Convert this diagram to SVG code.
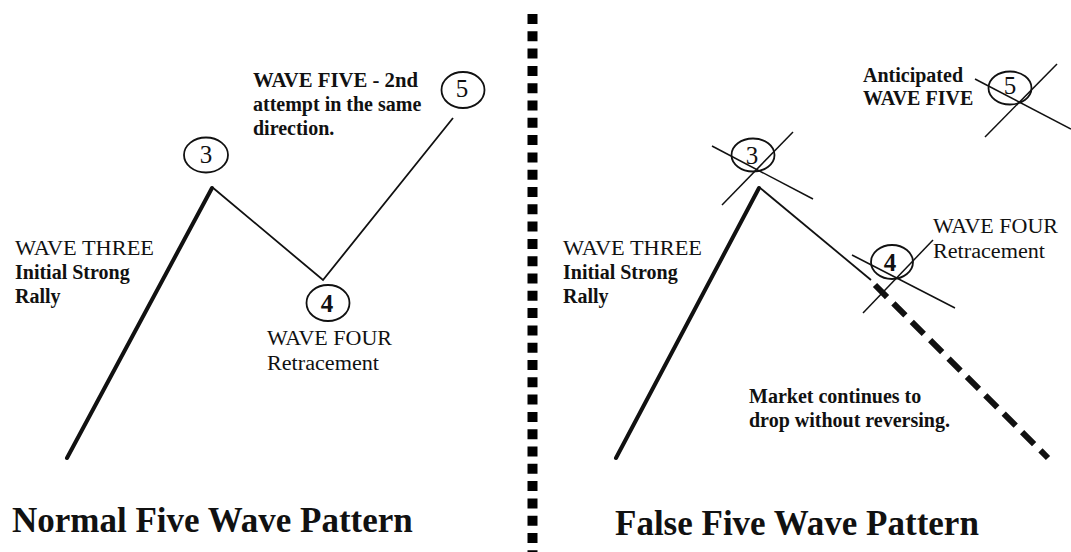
<svg xmlns="http://www.w3.org/2000/svg" width="1071" height="552" viewBox="0 0 1071 552">
<style>
text{font-family:"Liberation Serif","Times New Roman",serif;fill:#111}
.lb{font-size:20px;font-weight:bold}
.lr{font-size:20px;font-weight:normal}
.dg{font-size:25px;text-anchor:middle}
.title{font-size:35px;font-weight:bold}
.node ellipse{fill:none;stroke:#111;stroke-width:1.8}
.thin{stroke:#111;stroke-width:1.8;fill:none}
.thick{stroke:#111;stroke-width:4;fill:none;stroke-linecap:round}
.cross{stroke:#111;stroke-width:1.5}
</style>
<rect width="1071" height="552" fill="#fff"/>

<g id="connectors">
  <!-- left panel -->
  <line class="thick" x1="67" y1="458" x2="212" y2="188"/>
  <polyline class="thin" points="212,187 323,280 453,118"/>
  <!-- right panel -->
  <line class="thick" x1="616" y1="458" x2="759" y2="188"/>
  <line class="thin" x1="759" y1="187" x2="871" y2="280"/>
  <line x1="875" y1="285" x2="1048" y2="458" stroke="#111" stroke-width="6" stroke-dasharray="17 9"/>
</g>

<g id="divider">
  <line x1="532.5" y1="14" x2="532.5" y2="552" stroke="#000" stroke-width="10" stroke-dasharray="10 7.3"/>
</g>

<g id="left-node-3" class="node">
  <ellipse cx="206" cy="155" rx="22" ry="17.5"/>
  <text class="dg" x="206" y="163">3</text>
</g>
<g id="left-node-4" class="node">
  <ellipse cx="328" cy="303" rx="21.5" ry="18"/>
  <text class="dg" x="327" y="312" font-weight="bold">4</text>
</g>
<g id="left-node-5" class="node">
  <ellipse cx="463" cy="90" rx="21.5" ry="18"/>
  <text class="dg" x="462" y="97">5</text>
</g>

<g id="left-labels">
  <text class="lb" x="253" y="87" textLength="165" lengthAdjust="spacingAndGlyphs">WAVE FIVE - 2nd</text>
  <text class="lb" x="253" y="111">attempt in the same</text>
  <text class="lb" x="253" y="135">direction.</text>
  <text class="lr" x="15" y="255" textLength="139" lengthAdjust="spacingAndGlyphs">WAVE THREE</text>
  <text class="lb" x="15" y="279">Initial Strong</text>
  <text class="lb" x="15" y="303">Rally</text>
  <text class="lr" x="267" y="345" textLength="125" lengthAdjust="spacingAndGlyphs">WAVE FOUR</text>
  <text class="lr" x="267" y="370" textLength="112" lengthAdjust="spacingAndGlyphs">Retracement</text>
  <text class="title" x="12" y="532">Normal Five Wave Pattern</text>
</g>

<g id="right-node-3" class="node">
  <ellipse cx="753" cy="155" rx="21.5" ry="16.5"/>
  <text class="dg" x="752" y="164">3</text>
  <line class="cross" x1="712" y1="146" x2="813" y2="199"/>
  <line class="cross" x1="722" y1="205" x2="793" y2="132"/>
</g>
<g id="right-node-4" class="node">
  <ellipse cx="892" cy="262" rx="21" ry="17"/>
  <text class="dg" x="890" y="271" font-weight="bold">4</text>
  <line class="cross" x1="852" y1="255" x2="955" y2="308"/>
  <line class="cross" x1="863" y1="313" x2="933" y2="240"/>
</g>
<g id="right-node-5" class="node">
  <ellipse cx="1010" cy="88" rx="21.5" ry="16.5"/>
  <text class="dg" x="1010" y="94">5</text>
  <line class="cross" x1="975" y1="79" x2="1071" y2="129"/>
  <line class="cross" x1="985" y1="137" x2="1057" y2="64"/>
</g>

<g id="right-labels">
  <text class="lb" x="863" y="82">Anticipated</text>
  <text class="lb" x="863" y="105">WAVE FIVE</text>
  <text class="lr" x="563" y="255" textLength="139" lengthAdjust="spacingAndGlyphs">WAVE THREE</text>
  <text class="lb" x="563" y="279">Initial Strong</text>
  <text class="lb" x="563" y="303">Rally</text>
  <text class="lr" x="933" y="233" textLength="125" lengthAdjust="spacingAndGlyphs">WAVE FOUR</text>
  <text class="lr" x="933" y="258" textLength="112" lengthAdjust="spacingAndGlyphs">Retracement</text>
  <text class="lb" x="749" y="403">Market continues to</text>
  <text class="lb" x="749" y="427">drop without reversing.</text>
  <text class="title" x="615" y="535">False Five Wave Pattern</text>
</g>
</svg>
